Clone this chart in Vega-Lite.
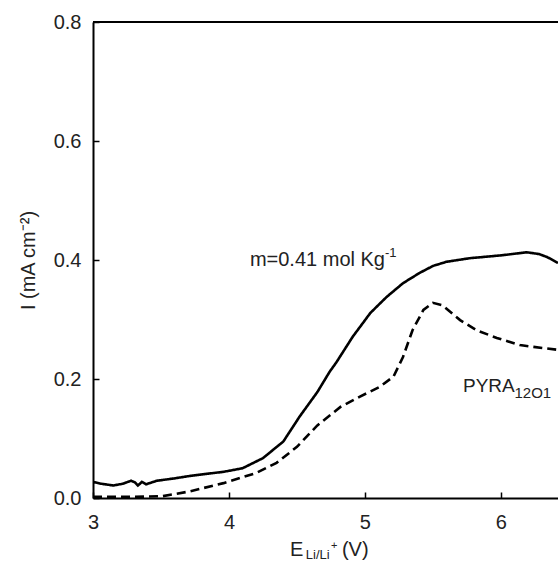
{
  "$schema": "https://vega.github.io/schema/vega-lite/v6.json",
  "width": 465,
  "height": 476,
  "autosize": {"type": "none"},
  "padding": {"left": 93, "top": 22, "right": 0, "bottom": 64},
  "background": "white",
  "config": {
    "view": {"stroke": null},
    "font": "Liberation Sans",
    "axis": {
      "domainColor": "black",
      "domainWidth": 2,
      "tickColor": "black",
      "tickWidth": 1.5,
      "tickSize": -6,
      "grid": false,
      "labelFont": "Liberation Sans",
      "labelFontSize": 20,
      "labelColor": "#222",
      "titleFont": "Liberation Sans",
      "titleFontSize": 20,
      "titleFontWeight": "normal",
      "titleColor": "#222"
    }
  },
  "datasets": {
    "curves": [
      {"E": 3.0, "I": 0.027, "series": "m=0.41"},
      {"E": 3.06, "I": 0.024, "series": "m=0.41"},
      {"E": 3.15, "I": 0.021, "series": "m=0.41"},
      {"E": 3.22, "I": 0.024, "series": "m=0.41"},
      {"E": 3.28, "I": 0.029, "series": "m=0.41"},
      {"E": 3.31, "I": 0.026, "series": "m=0.41"},
      {"E": 3.33, "I": 0.021, "series": "m=0.41"},
      {"E": 3.36, "I": 0.027, "series": "m=0.41"},
      {"E": 3.39, "I": 0.023, "series": "m=0.41"},
      {"E": 3.47, "I": 0.029, "series": "m=0.41"},
      {"E": 3.6, "I": 0.033, "series": "m=0.41"},
      {"E": 3.71, "I": 0.037, "series": "m=0.41"},
      {"E": 3.85, "I": 0.041, "series": "m=0.41"},
      {"E": 3.96, "I": 0.044, "series": "m=0.41"},
      {"E": 4.1, "I": 0.05, "series": "m=0.41"},
      {"E": 4.25, "I": 0.067, "series": "m=0.41"},
      {"E": 4.4, "I": 0.095, "series": "m=0.41"},
      {"E": 4.52, "I": 0.137, "series": "m=0.41"},
      {"E": 4.65, "I": 0.178, "series": "m=0.41"},
      {"E": 4.74, "I": 0.212, "series": "m=0.41"},
      {"E": 4.79, "I": 0.228, "series": "m=0.41"},
      {"E": 4.91, "I": 0.271, "series": "m=0.41"},
      {"E": 5.04, "I": 0.311, "series": "m=0.41"},
      {"E": 5.16, "I": 0.338, "series": "m=0.41"},
      {"E": 5.28, "I": 0.361, "series": "m=0.41"},
      {"E": 5.4, "I": 0.378, "series": "m=0.41"},
      {"E": 5.5, "I": 0.39, "series": "m=0.41"},
      {"E": 5.6, "I": 0.397, "series": "m=0.41"},
      {"E": 5.77, "I": 0.403, "series": "m=0.41"},
      {"E": 6.01, "I": 0.408, "series": "m=0.41"},
      {"E": 6.19, "I": 0.413, "series": "m=0.41"},
      {"E": 6.28, "I": 0.41, "series": "m=0.41"},
      {"E": 6.34, "I": 0.405, "series": "m=0.41"},
      {"E": 6.42, "I": 0.395, "series": "m=0.41"},
      {"E": 3.0, "I": 0.002, "series": "PYRA"},
      {"E": 3.3, "I": 0.002, "series": "PYRA"},
      {"E": 3.51, "I": 0.003, "series": "PYRA"},
      {"E": 3.71, "I": 0.011, "series": "PYRA"},
      {"E": 3.96, "I": 0.025, "series": "PYRA"},
      {"E": 4.2, "I": 0.042, "series": "PYRA"},
      {"E": 4.35, "I": 0.059, "series": "PYRA"},
      {"E": 4.5, "I": 0.086, "series": "PYRA"},
      {"E": 4.65, "I": 0.122, "series": "PYRA"},
      {"E": 4.82, "I": 0.153, "series": "PYRA"},
      {"E": 4.96, "I": 0.17, "series": "PYRA"},
      {"E": 5.11, "I": 0.187, "series": "PYRA"},
      {"E": 5.21, "I": 0.204, "series": "PYRA"},
      {"E": 5.28, "I": 0.237, "series": "PYRA"},
      {"E": 5.35, "I": 0.282, "series": "PYRA"},
      {"E": 5.43, "I": 0.316, "series": "PYRA"},
      {"E": 5.5, "I": 0.328, "series": "PYRA"},
      {"E": 5.57, "I": 0.324, "series": "PYRA"},
      {"E": 5.7, "I": 0.299, "series": "PYRA"},
      {"E": 5.82, "I": 0.282, "series": "PYRA"},
      {"E": 5.97, "I": 0.269, "series": "PYRA"},
      {"E": 6.14, "I": 0.257, "series": "PYRA"},
      {"E": 6.24, "I": 0.254, "series": "PYRA"},
      {"E": 6.42, "I": 0.249, "series": "PYRA"}
    ],
    "one": [{}]
  },
  "layer": [
    {
      "data": {"name": "curves"},
      "mark": {"type": "line", "color": "black", "strokeWidth": 2.6, "clip": true},
      "encoding": {
        "x": {
          "field": "E",
          "type": "quantitative",
          "scale": {"domain": [3, 6.42], "nice": false, "zero": false},
          "axis": {"values": [3, 4, 5, 6], "format": "d", "title": null, "labelPadding": 20, "labelAlign": "center"}
        },
        "y": {
          "field": "I",
          "type": "quantitative",
          "scale": {"domain": [0, 0.8], "nice": false},
          "axis": {"values": [0, 0.2, 0.4, 0.6, 0.8], "format": ".1f", "title": "I (mA cm⁻²)", "labelPadding": 18, "titlePadding": 15}
        },
        "strokeDash": {
          "field": "series",
          "type": "nominal",
          "scale": {"domain": ["m=0.41", "PYRA"], "range": [[1, 0], [9, 5]]},
          "legend": null
        }
      }
    },
    {
      "data": {"name": "one"},
      "mark": {"type": "rule", "color": "black", "strokeWidth": 2},
      "encoding": {"y": {"datum": 0.8}}
    },
    {
      "data": {"name": "one"},
      "mark": {"type": "text", "text": "m=0.41 mol Kg", "align": "left", "baseline": "alphabetic", "fontSize": 20, "font": "Liberation Sans", "color": "#222"},
      "encoding": {"x": {"datum": 4.154}, "y": {"datum": 0.39}}
    },
    {
      "data": {"name": "one"},
      "mark": {"type": "text", "text": "-1", "align": "left", "baseline": "alphabetic", "fontSize": 13, "font": "Liberation Sans", "color": "#222"},
      "encoding": {"x": {"datum": 5.147}, "y": {"datum": 0.405}}
    },
    {
      "data": {"name": "one"},
      "mark": {"type": "text", "text": "PYRA", "align": "left", "baseline": "alphabetic", "fontSize": 19, "font": "Liberation Sans", "color": "#222"},
      "encoding": {"x": {"datum": 5.721}, "y": {"datum": 0.178}}
    },
    {
      "data": {"name": "one"},
      "mark": {"type": "text", "text": "12O1", "align": "left", "baseline": "alphabetic", "fontSize": 15, "font": "Liberation Sans", "color": "#222"},
      "encoding": {"x": {"datum": 6.1}, "y": {"datum": 0.168}}
    },
    {
      "data": {"name": "one"},
      "mark": {"type": "text", "text": "E", "align": "left", "baseline": "alphabetic", "fontSize": 20, "font": "Liberation Sans", "color": "#222"},
      "encoding": {"x": {"datum": 4.449}, "y": {"datum": -0.0975}}
    },
    {
      "data": {"name": "one"},
      "mark": {"type": "text", "text": "Li/Li", "align": "left", "baseline": "alphabetic", "fontSize": 13, "font": "Liberation Sans", "color": "#222"},
      "encoding": {"x": {"datum": 4.565}, "y": {"datum": -0.103}}
    },
    {
      "data": {"name": "one"},
      "mark": {"type": "text", "text": "+", "align": "left", "baseline": "alphabetic", "fontSize": 11, "font": "Liberation Sans", "color": "#222"},
      "encoding": {"x": {"datum": 4.75}, "y": {"datum": -0.085}}
    },
    {
      "data": {"name": "one"},
      "mark": {"type": "text", "text": "(V)", "align": "left", "baseline": "alphabetic", "fontSize": 20, "font": "Liberation Sans", "color": "#222"},
      "encoding": {"x": {"datum": 4.831}, "y": {"datum": -0.0975}}
    }
  ]
}
